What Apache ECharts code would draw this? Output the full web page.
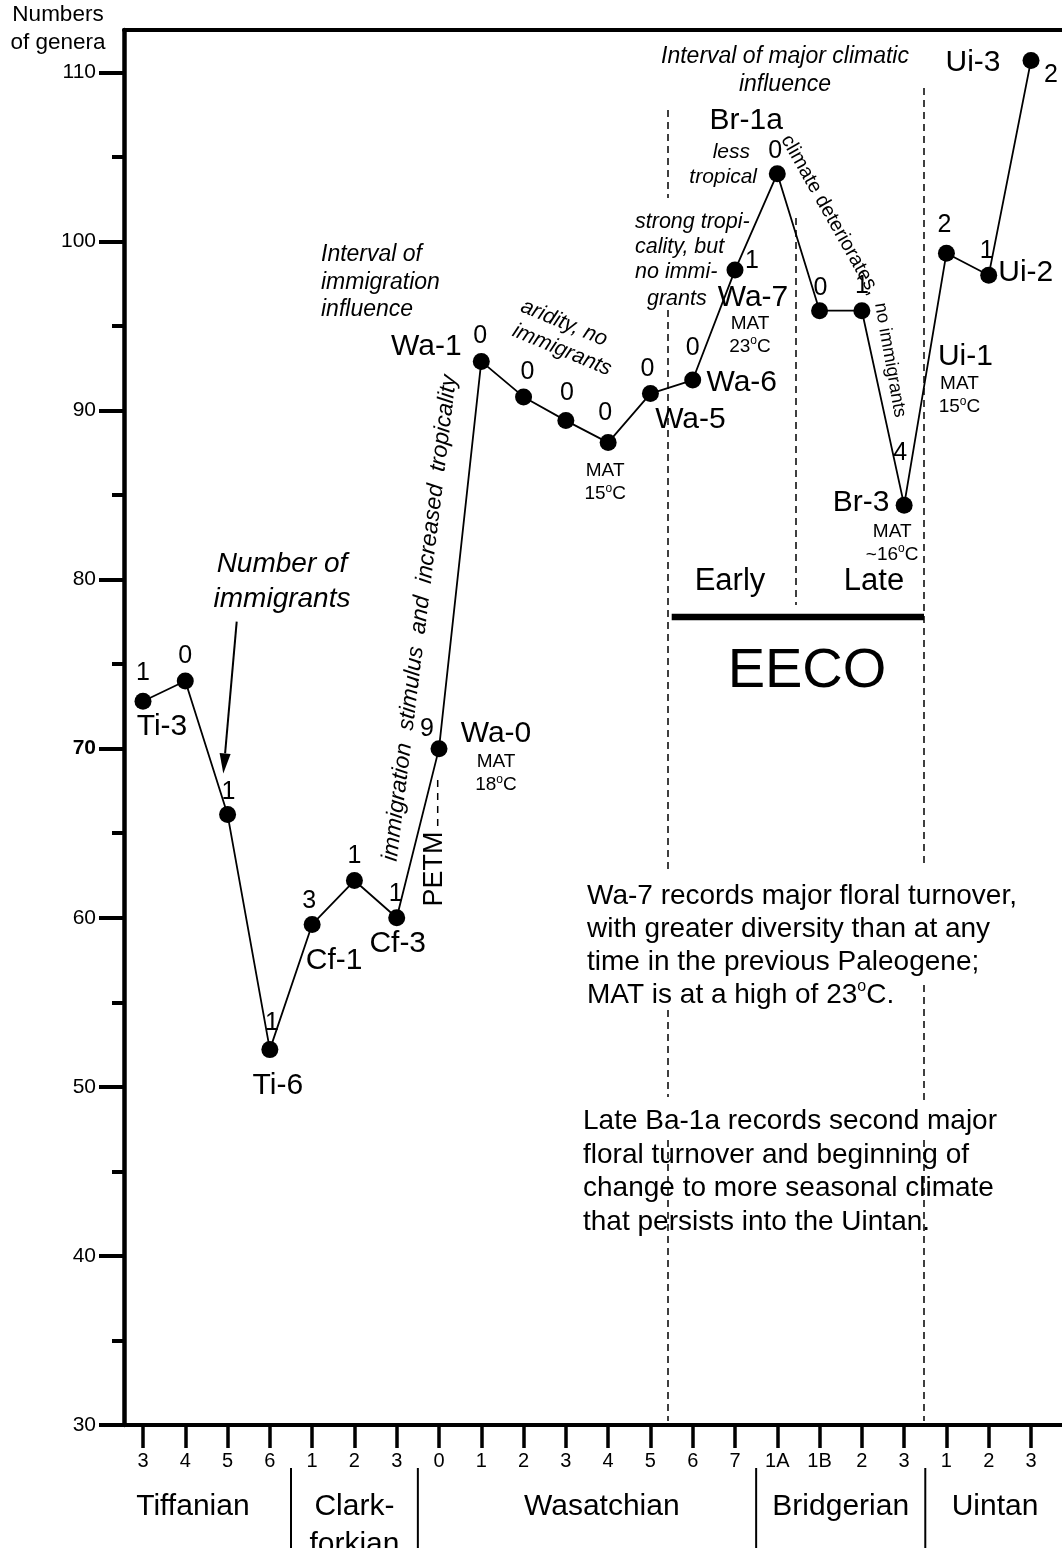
<!DOCTYPE html>
<html>
<head>
<meta charset="utf-8">
<title>Numbers of genera through the Paleogene land-mammal stages</title>
<script src="https://cdn.jsdelivr.net/npm/echarts@6/dist/echarts.min.js"></script>
<style>
  html, body { margin: 0; padding: 0; background: #ffffff; }
  #chart { width: 1062px; height: 1548px; }
</style>
</head>
<body>
<div id="chart"></div>
<script>
// ---- data -------------------------------------------------------------
// biostratigraphic zones, oldest to youngest (tick labels along the x axis)
const stageLabels = ['3','4','5','6','1','2','3','0','1','2','3','4','5','6','7','1A','1B','2','3','1','2','3'];
// zone names written next to selected points
const zoneNames = ['Ti-3','','','Ti-6','Cf-1','','Cf-3','Wa-0','Wa-1','','','','Wa-5','Wa-6','Wa-7','Br-1a','','','Br-3','Ui-1','Ui-2','Ui-3'];
// number of genera per zone
const genera = [72.8, 74.0, 66.1, 52.2, 59.6, 62.2, 60.0, 70.0, 92.9, 90.8, 89.4, 88.1, 91.0, 91.8, 98.3, 104.0, 95.9, 95.9, 84.4, 99.3, 98.0, 110.7];
// number of immigrant genera per zone
const immigrants = [1, 0, 1, 1, 3, 1, 1, 9, 0, 0, 0, 0, 0, 0, 1, 0, 0, 1, 4, 2, 1, 2];
// mean annual temperature notes (zone index, temperature text)
const matZones = [7, 11, 14, 18, 19];
const matTemps = ['18', '15', '23', '~16', '15'];
// land-mammal ages
const periodNames = ['Tiffanian', 'Clark-\nforkian', 'Wasatchian', 'Bridgerian', 'Uintan'];
const periodBreaks = [3.5, 6.5, 14.5, 18.5];
// y axis ticks
const yMajorTicks = [30, 40, 50, 60, 70, 80, 90, 100, 110];
const yMinorTicks = [35, 45, 55, 65, 75, 85, 95, 105];

// ---- layout (label offsets in px, relative to each point) --------------
const countOffsets = [[0,-28],[0,-25],[1,-22],[2,-27],[-3,-23],[0,-24],[-1,-24],[-12,-20],[-1,-25],[4,-25],[1,-27],[-3,-29],[-3,-24],[0,-32],[17,-9],[-2,-23],[1,-23],[0,-25],[-4,-52],[-2,-28],[-2,-24],[20,15]];
const nameOffsets = [[19,25],null,null,[8,36],[22,36],null,[1,26],[57,-15],[-55,-15],null,null,null,[40,26],[49,3],[18,28],[-31,-53],null,null,[-43,-2],[19,104],[37,-2],[-58,2]];
const matOffsets = [[57,25],[-3,40],[15,65],[-12,38],[13,142]];
const periodCenters = [1.18, 5.0, 10.85, 16.5, 20.15];

const FONT = '"Liberation Sans", Arial, Helvetica, sans-serif';
const X_MIN = -0.4493, X_MAX = 21.733;
const xTicks = stageLabels.map((_, i) => i);

const chart = echarts.init(document.getElementById('chart'), null, { renderer: 'canvas' });

const supRich = { o: { fontSize: 12, fontFamily: FONT, color: '#000', verticalAlign: 'top' } };

const option = {
  backgroundColor: '#ffffff',
  animation: false,
  grid: { left: 124, right: 0, top: 30, bottom: 123, containLabel: false },
  xAxis: [
    {
      type: 'value', position: 'bottom', min: X_MIN, max: X_MAX,
      splitLine: { show: false },
      axisLine: { show: true, onZero: false, lineStyle: { color: '#000', width: 4 } },
      axisTick: { show: true, customValues: xTicks, length: 23, lineStyle: { color: '#000', width: 3.5 } },
      axisLabel: {
        show: true, customValues: xTicks, margin: 26, fontSize: 20, color: '#000', fontFamily: FONT,
        formatter: v => stageLabels[Math.round(v)]
      }
    },
    {
      type: 'value', position: 'top', min: X_MIN, max: X_MAX,
      splitLine: { show: false },
      axisLine: { show: true, onZero: false, lineStyle: { color: '#000', width: 4 } },
      axisTick: { show: false }, axisLabel: { show: false }
    }
  ],
  yAxis: [
    {
      type: 'value', position: 'left', min: 30, max: 112.5,
      splitLine: { show: false },
      axisLine: { show: true, onZero: false, lineStyle: { color: '#000', width: 4.5 } },
      axisTick: { show: true, customValues: yMajorTicks, length: 25, lineStyle: { color: '#000', width: 4 } },
      axisLabel: {
        show: true, customValues: yMajorTicks, margin: 28, fontSize: 21, color: '#000', fontFamily: FONT,
        formatter: v => v === 70 ? '{b|70}' : String(v),
        rich: { b: { fontSize: 21, fontWeight: 'bold', fontFamily: FONT, color: '#000' } }
      }
    },
    {
      type: 'value', position: 'left', min: 30, max: 112.5,
      splitLine: { show: false },
      axisLine: { show: false, onZero: false },
      axisTick: { show: true, customValues: yMinorTicks, length: 12, lineStyle: { color: '#000', width: 4 } },
      axisLabel: { show: false }
    }
  ],
  series: [
    {
      type: 'line', name: 'genera', xAxisIndex: 0, yAxisIndex: 0,
      data: genera.map((v, i) => ({ value: [i, v], label: { offset: countOffsets[i] } })),
      symbol: 'circle', symbolSize: 17,
      itemStyle: { color: '#000' },
      lineStyle: { color: '#000', width: 1.8 },
      label: {
        show: true, position: 'inside', color: '#000', fontSize: 25, fontFamily: FONT,
        formatter: p => String(immigrants[p.dataIndex])
      },
      z: 3
    },
    {
      type: 'scatter', name: 'zones', silent: true,
      data: zoneNames.map((n, i) => n ? { name: n, value: [i, genera[i]], label: { offset: nameOffsets[i] } } : null).filter(Boolean),
      symbolSize: 0,
      itemStyle: { color: '#000', opacity: 1 },
      label: { show: true, position: 'inside', formatter: '{b}', color: '#000', opacity: 1, fontSize: 30, fontFamily: FONT },
      z: 4
    },
    {
      type: 'scatter', name: 'MAT', silent: true,
      data: matZones.map((z, k) => ({ value: [z, genera[z]], label: { offset: matOffsets[k] } })),
      symbolSize: 0,
      itemStyle: { color: '#000', opacity: 1 },
      label: {
        show: true, position: 'inside', color: '#000', opacity: 1, fontSize: 19, lineHeight: 23, fontFamily: FONT, align: 'center',
        formatter: p => 'MAT\n' + matTemps[p.dataIndex] + '{o|o}C',
        rich: supRich
      },
      z: 4
    }
  ]
};

chart.setOption(option);

// ---- annotations --------------------------------------------------------
function text(x, y, str, o) {
  o = o || {};
  const style = {
    text: str, fill: '#000',
    fontSize: o.size || 20, fontFamily: FONT, fontStyle: o.italic ? 'italic' : 'normal',
    align: o.align || 'center', textAlign: o.align || 'center',
    verticalAlign: o.valign || 'middle', textVerticalAlign: o.valign || 'middle'
  };
  if (o.lineHeight) style.lineHeight = o.lineHeight;
  if (o.rich) style.rich = o.rich;
  return { type: 'text', x: x, y: y, rotation: (o.rot || 0) * Math.PI / 180, style: style, z: 10 };
}
function line(x1, y1, x2, y2, width, dash) {
  const style = { stroke: '#000', lineWidth: width };
  if (dash) style.lineDash = dash;
  return { type: 'line', shape: { x1: x1, y1: y1, x2: x2, y2: y2 }, style: style, z: 9 };
}

const elements = [];

// axis title
elements.push(text(58, 29, 'Numbers\nof genera', { size: 22.5, lineHeight: 28 }));

// interpretive notes
elements.push(text(321, 241, 'Interval of\nimmigration\ninfluence', { size: 23, italic: true, align: 'left', valign: 'top', lineHeight: 27.5 }));
elements.push(text(785, 42, 'Interval of major climatic\ninfluence', { size: 23, italic: true, valign: 'top', lineHeight: 28.5 }));
elements.push(text(282, 582, 'Number of\nimmigrants', { size: 28, italic: true, lineHeight: 35 }));
elements.push(text(420, 618, 'immigration  stimulus  and  increased  tropicality', { size: 23, italic: true, rot: 83 }));
elements.push(text(564, 323, 'aridity, no', { size: 21.5, italic: true, rot: -22.5 }));
elements.push(text(562, 350, 'immigrants', { size: 21.5, italic: true, rot: -22.5 }));
elements.push(text(635, 210, 'strong tropi-\ncality, but\nno immi-', { size: 21.5, italic: true, align: 'left', valign: 'top', lineHeight: 25 }));
elements.push(text(647, 299, 'grants', { size: 21.5, italic: true, align: 'left' }));
elements.push(text(750, 152, 'less', { size: 21, italic: true, align: 'right' }));
elements.push(text(757, 177, 'tropical', { size: 21, italic: true, align: 'right' }));
elements.push(text(830, 215, 'climate deteriorates,', { size: 20, rot: -60.5 }));
elements.push(text(890, 360, 'no immigrants', { size: 18.5, rot: -80 }));

// PETM marker
elements.push(text(435, 869, 'PETM', { size: 27, rot: 90 }));
elements.push(line(437.7, 780, 437.7, 832, 1.5, [7, 6]));

// Number-of-immigrants arrow
elements.push(line(236.7, 621.7, 225.1, 753.4, 2));
elements.push({ type: 'polygon', shape: { points: [[223.3, 773.5], [230.6, 753.9], [219.6, 752.9]] }, style: { fill: '#000' }, z: 9 });

// EECO interval
[[668,110,198],[668,310,870],[668,1010,1097],[668,1140,1421],
 [924,88,868],[924,985,1102],[924,1140,1421],
 [796,218,605]].forEach(d => elements.push(line(d[0], d[1], d[0], d[2], 1.5, [7, 5])));
elements.push(line(671.7, 617, 924, 617, 6.5));
elements.push(text(730, 581, 'Early', { size: 31 }));
elements.push(text(874, 581, 'Late', { size: 31 }));
elements.push(text(807, 672, 'EECO', { size: 56 }));

// explanatory paragraphs
elements.push(text(587, 879.5, 'Wa-7 records major floral turnover,\nwith greater diversity than at any\ntime in the previous Paleogene;\nMAT is at a high of 23{o|o}C.',
  { size: 28, align: 'left', valign: 'top', lineHeight: 33, rich: { o: { fontSize: 16, fontFamily: FONT, fill: '#000', verticalAlign: 'top' } } }));
elements.push(text(583, 1105, 'Late Ba-1a records second major\nfloral turnover and beginning of\nchange to more seasonal climate\nthat persists into the Uintan.',
  { size: 28, align: 'left', valign: 'top', lineHeight: 33.5 }));

// land-mammal ages below the axis
periodBreaks.forEach(b => {
  const px = chart.convertToPixel({ xAxisIndex: 0 }, b);
  elements.push(line(px, 1468, px, 1548, 2));
});
periodNames.forEach((n, k) => {
  const px = chart.convertToPixel({ xAxisIndex: 0 }, periodCenters[k]);
  elements.push(text(px, 1488, n, { size: 30, valign: 'top', lineHeight: 38 }));
});

chart.setOption({ graphic: { elements: elements } });
</script>
</body>
</html>
